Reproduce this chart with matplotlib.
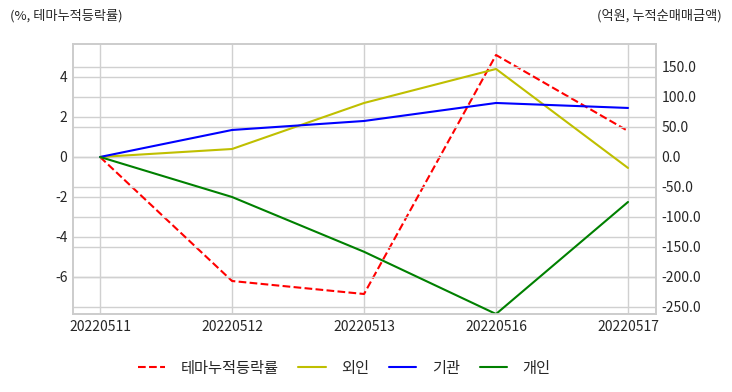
import matplotlib
matplotlib.use("Agg")
import matplotlib.pyplot as plt
import seaborn as sns

dates = ["20220511", "20220512", "20220513", "20220516", "20220517"]
theme = [0.0, -6.2, -6.85, 5.1, 1.3]
foreign = [0.0, 13.3, 90.0, 146.7, -18.3]
inst = [0.0, 45.0, 60.0, 90.0, 81.7]
indiv = [0.0, -66.7, -158.0, -261.7, -75.0]

sns.set_style("whitegrid")
plt.rcParams['font.family'] = ['Noto Sans CJK KR', 'DejaVu Sans']
plt.rcParams['axes.unicode_minus'] = False

fig = plt.figure(figsize=(7.32, 3.92), dpi=100)
ax = fig.add_axes([73/732, 1-314/392, (656-73)/732, 270/392])
ax2 = ax.twinx()

l1, = ax.plot(dates, theme, 'r--', lw=1.5, label='테마누적등락률')
l2, = ax2.plot(dates, foreign, color='y', lw=1.5, label='외인')
l3, = ax2.plot(dates, inst, color='b', lw=1.5, label='기관')
l4, = ax2.plot(dates, indiv, color='g', lw=1.5, label='개인')

ax.set_xlim(-0.205, 4.212)
ax.set_ylim(-7.85, 5.65)
ax2.set_ylim(-261.7, 188.3)
ax.set_yticks([-6, -4, -2, 0, 2, 4])
ax2.set_yticks([-250, -200, -150, -100, -50, 0, 50, 100, 150])
ax2.yaxis.set_major_formatter(matplotlib.ticker.FormatStrFormatter('%.1f'))

for a in (ax, ax2):
    a.tick_params(labelsize=10, colors='#262626', length=0, pad=4)
    for s in a.spines.values():
        s.set_color('#cccccc')
        s.set_linewidth(1.2)
ax2.grid(True, color='#d0d0d0', lw=1.0)
ax.grid(True, color='#d0d0d0', lw=1.0)

fig.text(10/732, 1-16/392, '(%, 테마누적등락률)', fontsize=9.5, color='#262626', va='center', ha='left')
fig.text(722/732, 1-16/392, '(억원, 누적순매매금액)', fontsize=9.5, color='#262626', va='center', ha='right')

fig.legend(handles=[l1, l2, l3, l4], loc='center', bbox_to_anchor=(344/732, 1-368/392),
           ncol=4, frameon=False, fontsize=11, columnspacing=1.3,
           handletextpad=1.0, handlelength=1.8)

fig.savefig('out.png', dpi=100)
